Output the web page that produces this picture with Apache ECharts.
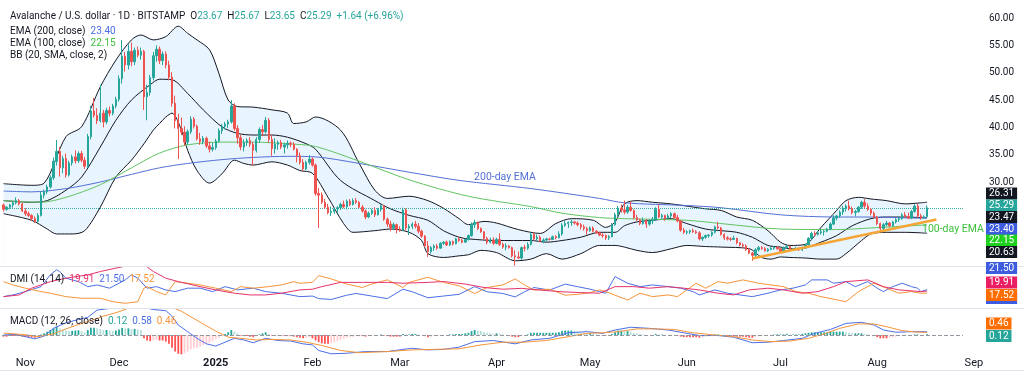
<!DOCTYPE html>
<html><head><meta charset="utf-8">
<script src="https://cdn.jsdelivr.net/npm/echarts/dist/echarts.min.js"></script>
<style>html,body{margin:0;padding:0;background:#fff;}#c{width:1024px;height:375px;}</style>
</head><body><div id="c"></div>
<script>
// ---------- DATA ----------
// candles per month: [open, high, low, close]
const candlesOct = [
[25.8,26.1,24.6,25.0],[25.0,25.6,24.8,25.4],[25.4,26.0,25.1,25.8],[25.8,26.5,25.3,26.2],[26.2,27.2,25.9,26.6],[26.6,26.9,25.7,26.0],[26.0,26.2,24.5,24.7]];
const candlesNov = [
[24.7,25.2,23.8,24.2],[24.2,24.6,23.6,23.9],[23.9,24.1,22.9,23.3],[23.3,23.7,22.5,22.8],[22.8,24.3,22.6,23.9],
[23.9,28.3,23.7,27.6],[27.6,28.6,27.0,28.2],[28.2,29.5,27.8,29.1],[29.1,31.2,28.8,30.8],[30.8,34.5,30.4,33.8],
[33.8,37.7,33.0,35.6],[35.6,36.4,31.0,32.6],[32.6,34.8,31.6,34.3],[34.3,35.2,30.8,31.3],[31.3,33.9,31.0,33.5],
[33.5,35.0,33.0,34.6],[34.6,35.8,33.4,33.9],[33.9,35.6,33.5,35.2],[35.2,35.7,33.6,34.0],[34.0,34.6,32.4,32.9],
[32.9,38.8,32.6,38.3],[38.3,43.9,37.8,43.0],[43.0,45.4,41.8,42.2],[42.2,43.5,40.6,41.2],[41.2,47.8,40.9,42.6],
[42.6,43.2,40.0,41.0],[41.0,43.6,40.6,43.1],[43.1,43.8,42.0,42.6],[42.6,44.3,42.2,43.9],[43.9,45.6,43.5,45.1]];
const candlesDec = [
[45.1,49.5,44.7,48.9],[48.9,56.0,48.0,53.0],[53.0,53.8,50.2,51.4],[51.4,55.2,50.6,53.9],[53.9,55.5,51.2,52.0],
[52.0,54.6,51.4,54.1],[54.1,54.8,52.8,53.2],[53.2,54.6,52.4,53.9],[53.9,54.2,43.2,45.6],[45.6,47.8,41.3,46.4],
[46.4,49.6,45.8,49.1],[49.1,53.8,48.6,53.1],[53.1,55.0,52.0,54.3],[54.3,54.8,51.6,52.2],[52.2,53.9,51.4,53.4],
[53.4,53.9,50.8,51.4],[51.4,52.2,48.6,49.2],[49.2,50.1,43.8,44.4],[44.4,45.8,39.8,41.2],[41.2,42.5,34.2,39.8],
[39.8,41.8,38.6,39.1],[39.1,40.2,36.6,37.3],[37.3,39.6,36.8,39.2],[39.2,42.0,38.8,41.5],[41.5,41.9,39.8,40.2],
[40.2,40.5,37.6,37.9],[37.9,39.0,36.8,37.4],[37.4,38.4,36.9,38.0],[38.0,38.3,36.2,36.6],[36.6,37.4,35.4,36.0],
[36.0,37.2,35.6,36.3]];
const candlesJan = [
[36.3,37.9,35.9,37.5],[37.5,39.8,37.2,39.4],[39.4,40.6,38.8,40.2],[40.2,41.0,39.6,40.6],[40.6,41.4,39.9,41.0],
[41.0,45.0,40.7,43.9],[43.9,44.4,39.4,39.8],[39.8,40.4,37.0,38.1],[38.1,38.6,35.8,36.4],[36.4,37.8,35.6,37.2],
[37.2,38.0,36.6,37.6],[37.6,38.2,36.4,36.9],[36.9,37.3,33.0,35.8],[35.8,38.2,35.4,37.8],[37.8,40.0,37.2,39.6],
[39.6,40.4,38.4,39.2],[39.2,41.9,38.9,41.3],[41.3,41.7,37.2,37.8],[37.8,38.6,34.8,36.1],[36.1,38.0,35.2,36.9],
[36.9,37.6,35.9,37.2],[37.2,37.7,36.0,36.4],[36.4,37.2,35.2,36.8],[36.8,37.6,36.1,37.1],[37.1,37.4,36.4,36.9],
[36.9,37.3,35.8,36.0],[36.0,36.2,33.6,34.8],[34.8,35.4,33.2,33.6],[33.6,34.2,32.0,32.4],[32.4,33.9,32.2,33.6],
[33.6,34.9,33.2,34.2]];
const candlesFeb = [
[34.2,34.5,32.8,33.1],[33.1,33.4,27.5,27.9],[27.9,28.9,21.6,27.6],[27.6,28.1,26.0,26.3],[26.3,26.9,25.1,25.4],
[25.4,26.0,24.1,24.4],[24.4,25.5,23.8,24.6],[24.6,25.3,24.2,25.1],[25.1,25.6,24.4,25.3],[25.3,26.2,24.9,25.9],
[25.9,26.6,25.2,25.5],[25.5,26.8,25.0,26.5],[26.5,26.9,25.6,25.9],[25.9,27.0,25.7,26.6],[26.6,27.1,26.0,26.3],
[26.3,26.5,25.2,25.4],[25.4,25.8,24.4,24.7],[24.7,25.0,23.2,23.6],[23.6,24.6,23.4,24.3],[24.3,25.1,24.0,24.8],
[24.8,25.4,23.6,24.0],[24.0,25.2,23.9,25.0],[25.0,25.9,24.6,25.6],[25.6,25.8,22.9,23.2],[23.2,23.5,21.8,22.3],
[22.3,22.9,21.0,21.6],[21.6,22.6,21.2,22.2],[22.2,22.4,20.6,21.4]];
const candlesMar = [
[21.4,21.9,20.9,21.2],[21.2,25.3,21.0,24.9],[24.9,25.2,21.2,21.6],[21.6,22.3,20.3,21.9],[21.9,22.6,21.4,22.3],
[22.3,22.9,21.5,21.9],[21.9,22.5,20.6,21.0],[21.0,21.3,19.8,20.1],[20.1,20.3,18.1,18.3],[18.3,19.2,16.3,17.3],
[17.3,18.3,16.9,18.0],[18.0,18.6,17.4,18.3],[18.3,18.7,17.6,17.9],[17.9,19.0,17.8,18.8],[18.8,19.2,18.5,19.0],
[19.0,19.3,18.3,18.5],[18.5,19.3,18.3,19.1],[19.1,19.3,18.4,18.7],[18.7,19.8,18.6,19.6],[19.6,19.9,19.0,19.3],
[19.3,19.6,18.8,19.0],[19.0,19.7,18.9,19.5],[19.5,20.4,19.3,20.2],[20.2,22.6,20.0,22.2],[22.2,23.1,21.6,22.6],
[22.6,22.8,21.2,21.5],[21.5,21.7,20.7,20.9],[20.9,21.0,19.4,19.7],[19.7,20.0,18.6,19.0],[19.0,19.8,18.8,19.4],
[19.4,19.9,18.5,18.8]];
const candlesApr = [
[18.8,19.8,18.6,19.5],[19.5,20.6,18.3,18.6],[18.6,18.9,17.8,18.1],[18.1,18.8,17.5,18.3],[18.3,18.5,17.8,18.0],
[18.0,18.2,16.2,16.5],[16.5,17.5,14.7,16.3],[16.3,17.3,15.9,16.1],[16.1,18.2,15.8,18.0],[18.0,18.5,17.3,17.9],
[17.9,19.0,17.6,18.6],[18.6,20.9,18.4,20.4],[20.4,20.8,19.3,19.6],[19.6,20.4,19.3,19.9],[19.9,20.2,19.0,19.2],
[19.2,19.7,18.8,19.4],[19.4,19.8,19.1,19.6],[19.6,19.8,19.3,19.5],[19.5,20.2,19.4,20.0],[20.0,20.3,19.5,19.8],
[19.8,21.0,19.7,20.5],[20.5,22.5,20.2,22.1],[22.1,23.0,21.8,22.4],[22.4,22.8,21.6,22.6],[22.6,23.1,22.0,22.7],
[22.7,22.9,22.2,22.5],[22.5,22.8,21.9,22.2],[22.2,22.5,21.3,21.8],[21.8,22.2,21.1,21.5],[21.5,21.8,20.4,21.1]];
const candlesMay = [
[21.1,21.9,20.9,21.6],[21.6,21.9,20.8,21.0],[21.0,21.2,20.5,20.7],[20.7,20.9,20.1,20.3],[20.3,20.6,19.8,20.2],
[20.2,20.4,19.4,19.8],[19.8,20.3,19.4,20.0],[20.0,22.5,19.9,22.2],[22.2,24.4,22.0,24.0],[24.0,25.6,23.6,25.2],
[25.2,25.9,24.4,24.9],[24.9,26.6,24.1,24.5],[24.5,25.8,24.2,25.4],[25.4,26.5,24.6,24.8],[24.8,25.0,23.2,23.5],
[23.5,24.0,22.9,23.1],[23.1,23.3,22.1,22.4],[22.4,23.5,22.2,23.0],[23.0,23.2,21.6,22.3],[22.3,23.2,22.0,22.9],
[22.9,23.6,22.3,23.1],[23.1,25.4,22.9,25.0],[25.0,25.9,23.4,23.6],[23.6,24.2,23.3,23.9],[23.9,24.0,22.9,23.4],
[23.4,24.2,23.2,23.8],[23.8,24.5,23.4,24.2],[24.2,24.4,23.3,23.5],[23.5,24.0,22.6,22.9],[22.9,23.0,20.9,21.2],
[21.2,21.6,20.5,20.8]];
const candlesJun = [
[20.8,21.2,20.4,20.9],[20.9,21.3,20.5,21.1],[21.1,21.5,20.7,20.9],[20.9,21.2,20.5,20.7],[20.7,21.0,19.3,19.6],
[19.6,20.0,19.2,19.9],[19.9,20.4,19.6,20.2],[20.2,20.5,19.8,20.3],[20.3,21.0,20.0,20.8],[20.8,22.0,20.6,21.8],
[21.8,22.7,21.4,21.6],[21.6,21.8,20.2,20.4],[20.4,20.6,19.4,19.8],[19.8,20.1,19.3,19.6],[19.6,19.9,19.2,19.5],
[19.5,20.2,19.4,19.7],[19.7,19.8,18.6,18.9],[18.9,19.0,18.2,18.5],[18.5,18.8,18.0,18.3],[18.3,18.6,17.4,17.6],
[17.6,17.9,16.8,17.0],[17.0,17.2,15.6,16.6],[16.6,17.9,16.2,17.6],[17.6,18.3,17.3,18.0],[18.0,18.3,17.6,17.8],
[17.8,18.1,17.3,17.4],[17.4,17.9,17.2,17.7],[17.7,18.1,17.5,17.9],[17.9,18.3,17.6,18.1],[18.1,18.2,17.6,17.8]];
const candlesJul = [
[17.8,17.9,17.1,17.3],[17.3,18.2,17.2,18.0],[18.0,18.5,17.8,18.2],[18.2,18.3,17.4,17.6],[17.6,17.9,17.4,17.7],
[17.7,18.1,17.5,17.9],[17.9,18.0,17.4,17.6],[17.6,18.1,17.4,17.9],[17.9,18.7,17.8,18.5],[18.5,19.9,18.4,19.7],
[19.7,20.9,19.5,20.6],[20.6,21.0,20.1,20.4],[20.4,21.0,20.2,20.7],[20.7,21.4,20.4,20.9],[20.9,21.2,20.2,21.0],
[21.0,21.6,20.8,21.4],[21.4,22.6,21.2,22.3],[22.3,23.9,22.1,23.4],[23.4,24.0,23.0,23.8],[23.8,24.8,23.5,24.5],
[24.5,25.6,24.0,25.2],[25.2,25.9,24.6,25.6],[25.6,26.6,24.8,25.1],[25.1,25.5,24.1,24.4],[24.4,24.9,23.7,24.6],
[24.6,25.6,24.4,25.4],[25.4,26.6,25.1,26.3],[26.3,26.9,25.2,25.6],[25.6,26.1,24.7,25.0],[25.0,25.2,23.9,24.3],
[24.3,24.6,23.4,23.6]];
const candlesAug = [
[23.6,23.8,22.1,22.4],[22.4,22.6,21.1,21.5],[21.5,22.5,21.2,22.2],[22.2,22.9,21.9,22.5],[22.5,22.7,21.7,22.0],
[22.0,22.9,21.8,22.7],[22.7,23.4,22.4,23.1],[23.1,23.6,22.7,23.3],[23.3,24.3,23.1,24.0],[24.0,24.5,23.5,23.7],
[23.7,24.4,23.2,23.4],[23.4,24.9,23.2,24.6],[24.6,25.9,24.4,25.6],[25.6,26.0,23.4,23.8],[23.8,24.2,23.1,23.5],
[23.5,23.9,23.3,23.67],[23.67,25.67,23.65,25.29]];

// indicator lines: [MM-DD, value]
const ema200Pts = [['10-25',28.35],['11-03',28.2],['11-14',28.8],['11-25',30.0],['12-05',31.4],['12-14',32.6],['12-23',33.4],['01-03',34.1],['01-13',34.5],['01-24',34.7],['02-02',34.6],['02-16',33.4],['03-04',31.8],['03-20',30.3],['04-12',28.8],['05-04',27.0],['05-12',26.2],['06-01',25.7],['06-12',25.3],['07-01',24.0],['07-19',23.6],['07-30',23.6],['08-15',23.4],['08-17',23.40]];
const ema100Pts = [['10-25',26.6],['11-06',26.3],['11-14',27.2],['11-25',29.5],['12-05',32.6],['12-14',35.3],['12-23',36.8],['01-03',37.3],['01-13',37.3],['01-24',37.0],['02-02',36.5],['02-16',33.8],['03-04',30.4],['03-23',27.4],['04-12',25.5],['04-22',24.3],['05-04',23.5],['05-12',23.3],['06-01',23.0],['06-12',22.4],['07-01',21.4],['07-19',21.3],['07-30',21.6],['08-15',22.1],['08-17',22.15]];
const bbUpperPts = [['10-25',29.7],['11-03',29.4],['11-07',29.8],['11-14',38.3],['11-19',40.1],['11-25',47.4],['11-30',52.3],['12-05',56.0],['12-08',56.9],['12-12',56.0],['12-16',56.6],['12-20',58.5],['12-23',57.2],['12-26',56.0],['12-30',54.2],['01-02',49.9],['01-05',45.0],['01-08',43.8],['01-13',43.7],['01-19',43.2],['01-24',42.6],['01-26',40.7],['01-30',41.0],['02-02',41.9],['02-10',39.5],['02-16',33.4],['02-21',28.5],['02-25',27.0],['03-04',27.4],['03-10',26.6],['03-15',25.2],['03-20',23.3],['03-23',22.2],['03-28',22.8],['04-01',22.5],['04-08',21.3],['04-15',20.6],['04-20',22.4],['04-25',23.3],['05-02',23.0],['05-06',21.7],['05-09',22.7],['05-12',26.0],['05-16',26.6],['05-21',26.3],['05-27',26.0],['06-07',25.1],['06-12',24.8],['06-17',23.6],['06-22',23.0],['06-27',21.1],['07-01',19.0],['07-04',18.4],['07-09',18.6],['07-14',21.7],['07-19',24.8],['07-22',26.6],['07-26',27.2],['07-30',26.9],['08-04',26.6],['08-10',26.0],['08-15',26.2],['08-17',26.31]];
const bbBasisPts = [['10-25',26.6],['11-03',26.3],['11-08',26.6],['11-14',28.5],['11-19',30.9],['11-25',36.4],['11-30',41.3],['12-05',45.0],['12-11',47.8],['12-14',48.8],['12-18',48.7],['12-23',46.2],['12-28',43.2],['01-03',40.1],['01-08',38.9],['01-13',38.6],['01-19',38.6],['01-24',38.2],['01-30',37.0],['02-02',36.0],['02-10',30.3],['02-21',26.6],['02-26',25.1],['03-04',23.9],['03-10',23.0],['03-15',21.1],['03-20',19.9],['03-23',19.6],['04-01',19.3],['04-12',19.3],['04-17',19.0],['04-22',19.3],['04-28',19.9],['05-04',20.8],['05-09',20.8],['05-12',22.0],['05-16',22.7],['05-21',23.0],['05-27',23.3],['06-01',22.4],['06-07',21.4],['06-12',21.1],['06-17',20.8],['06-22',19.9],['06-27',18.4],['07-01',18.1],['07-04',17.8],['07-09',18.0],['07-14',19.0],['07-19',20.2],['07-24',22.0],['07-30',23.3],['08-04',23.6],['08-10',23.6],['08-15',23.5],['08-17',23.47]];
const bbLowerPts = [['10-25',24.2],['11-03',23.0],['11-08',21.4],['11-11',20.5],['11-16',20.5],['11-20',21.1],['11-25',25.4],['11-30',30.9],['12-05',34.0],['12-09',37.0],['12-12',39.5],['12-14',40.7],['12-16',41.9],['12-18',42.6],['12-21',39.5],['12-23',35.8],['12-26',32.1],['12-30',29.8],['01-03',31.5],['01-07',34.0],['01-10',33.4],['01-13',33.1],['01-19',33.7],['01-24',33.1],['01-28',32.1],['02-01',31.6],['02-06',27.2],['02-11',22.4],['02-14',20.8],['02-21',21.1],['02-26',21.4],['03-04',20.8],['03-08',19.3],['03-10',16.9],['03-15',16.2],['03-20',16.5],['03-23',16.7],['03-27',17.5],['04-01',17.1],['04-07',15.6],['04-12',15.9],['04-17',16.9],['04-22',15.9],['04-28',16.9],['05-04',18.4],['05-09',18.4],['05-12',18.1],['05-16',17.5],['05-21',17.1],['05-27',17.8],['06-01',18.4],['06-07',18.2],['06-12',18.1],['06-21',17.8],['06-25',16.2],['06-28',15.9],['07-01',16.3],['07-04',16.2],['07-09',16.1],['07-14',15.9],['07-19',15.9],['07-22',16.9],['07-27',19.3],['07-30',20.5],['08-04',20.8],['08-10',20.8],['08-15',20.7],['08-17',20.63]];
const trendPts = [['06-22',16.0],['08-20',23.15]];

const plusDiPts = [['10-25',13.3],['10-28',15.3],['11-01',19.2],['11-06',25],['11-09',38.8],['11-11',44.7],['11-12',42.7],['11-14',34.9],['11-18',30.9],['11-21',25],['11-24',27],['11-28',23.2],['12-03',32.9],['12-05',38.8],['12-07',34.9],['12-10',23.2],['12-13',25],['12-16',21.2],['12-19',19.2],['12-23',23.2],['12-27',23.2],['12-31',19.2],['01-04',25],['01-08',21.2],['01-13',23.2],['01-17',19.2],['01-22',17.3],['01-28',13.3],['02-01',14],['02-03',11],['02-07',10],['02-12',15],['02-15',17],['02-20',14],['02-25',11],['03-02',22],['03-05',19],['03-10',12],['03-15',14],['03-20',16],['03-25',25],['03-29',19],['04-03',17],['04-07',13],['04-10',19],['04-13',24],['04-18',21],['04-23',28],['04-27',25],['05-01',22],['05-04',19.2],['05-06',17.3],['05-09',36.8],['05-13',29],['05-17',25],['05-21',27],['05-26',25],['05-30',23.2],['06-03',19.2],['06-05',15.3],['06-10',21.2],['06-14',17.3],['06-18',15.3],['06-22',13.3],['06-27',17.3],['07-01',21.2],['07-05',23.2],['07-09',27],['07-11',32.9],['07-16',32.9],['07-18',29],['07-22',30.9],['07-25',25],['07-29',30.9],['08-01',23.2],['08-03',19.2],['08-06',25],['08-09',29],['08-12',25],['08-14',23.2],['08-15',19.2],['08-17',21.5]];
const minusDiPts = [['10-25',30.9],['10-28',27],['11-01',23.2],['11-06',19.2],['11-09',17.3],['11-14',13.3],['11-19',11.4],['11-25',11.4],['11-29',7.4],['12-03',5.5],['12-07',7.4],['12-09',23.2],['12-10',25],['12-13',19.2],['12-16',15.3],['12-19',30.9],['12-23',29],['12-27',27],['01-01',23.2],['01-06',19.2],['01-09',25],['01-13',23.2],['01-18',25],['01-22',27],['01-26',30.9],['01-28',29],['02-01',30],['02-03',38],['02-07',34],['02-12',28],['02-17',24],['02-20',28],['02-25',33],['03-02',24],['03-04',30],['03-10',36],['03-15',30],['03-20',26],['03-25',17],['03-29',24],['04-03',27],['04-07',34],['04-10',27],['04-13',21],['04-18',22],['04-23',15],['04-27',16],['05-01',18],['05-04',21.2],['05-06',19.2],['05-13',9.4],['05-17',17.3],['05-21',13.3],['05-26',15.3],['05-29',13.3],['06-01',21.2],['06-04',29],['06-07',23.2],['06-11',30.9],['06-14',29],['06-19',32.9],['06-24',29],['06-28',27],['07-02',25],['07-06',19.2],['07-10',17.3],['07-14',13.3],['07-22',7.4],['07-26',19.2],['07-31',29],['08-04',23.2],['08-08',17.3],['08-12',19.2],['08-15',17.3],['08-17',17.52]];
const adxPts = [['10-25',13.3],['10-30',15.3],['11-03',23.2],['11-09',30.9],['11-14',34.9],['11-21',38.8],['11-25',42.7],['11-30',46.7],['12-03',49],['12-06',53],['12-09',51],['12-12',42.7],['12-16',34.9],['12-20',30.9],['12-27',25],['01-01',21.2],['01-07',17.3],['01-12',15.3],['01-17',15.3],['01-22',17.3],['01-28',21.2],['02-01',22],['02-04',25],['02-10',30],['02-17',30],['02-25',30],['03-02',29],['03-10',30],['03-15',31],['03-22',28],['03-28',24],['04-03',22],['04-09',23],['04-15',21],['04-22',19],['04-28',18],['05-04',17.3],['05-09',25],['05-15',25],['05-20',23.2],['05-26',25],['05-31',23.2],['06-05',21.2],['06-11',17.3],['06-16',15.3],['06-21',21.2],['06-27',23.2],['07-02',21.2],['07-08',17.3],['07-13',19.2],['07-18',25],['07-22',30.9],['07-29',32.9],['08-03',25],['08-08',21.2],['08-15',19.2],['08-17',19.91]];

const macdPts = [['10-25',0.0],['10-29',0.1],['11-01',-0.3],['11-04',-0.7],['11-07',-0.2],['11-10',1.2],['11-14',2.2],['11-18',2.8],['11-21',3.2],['11-24',4.5],['11-28',4.8],['12-02',5.5],['12-08',6.2],['12-09',5.0],['12-12',4.6],['12-16',4.4],['12-18',3.4],['12-20',1.8],['12-23',0.6],['12-26',-0.6],['12-29',-1.6],['01-01',-2.0],['01-04',-1.3],['01-07',-0.6],['01-10',-0.9],['01-13',-1.4],['01-17',-0.6],['01-21',-1.0],['01-25',-1.1],['01-29',-1.6],['02-01',-1.8],['02-03',-2.8],['02-07',-3.4],['02-12',-3.3],['02-18',-3.0],['02-25',-3.0],['03-02',-2.6],['03-05',-2.4],['03-10',-2.7],['03-15',-2.6],['03-20',-2.2],['03-25',-1.2],['03-31',-1.0],['04-07',-1.6],['04-12',-0.9],['04-18',-0.6],['04-24',0.4],['04-30',0.6],['05-05',0.3],['05-09',0.9],['05-14',1.4],['05-20',1.2],['05-26',0.9],['05-31',0.4],['06-05',-0.1],['06-11',-0.1],['06-16',-0.4],['06-22',-1.4],['06-27',-1.3],['07-02',-1.0],['07-08',-0.6],['07-12',0.3],['07-17',1.0],['07-22',2.1],['07-27',2.3],['07-31',1.8],['08-03',0.9],['08-07',0.5],['08-12',0.6],['08-17',0.58]];
const signalPts = [['10-25',0.35],['11-01',0.05],['11-05',-0.3],['11-10',0.2],['11-14',1.1],['11-18',1.9],['11-22',2.6],['11-26',3.4],['12-01',4.2],['12-06',5.3],['12-10',5.6],['12-14',5.4],['12-18',5.0],['12-21',4.3],['12-24',3.3],['12-28',2.0],['01-01',0.7],['01-05',-0.4],['01-09',-0.6],['01-14',-0.9],['01-19',-0.8],['01-25',-0.9],['01-30',-1.3],['02-04',-1.9],['02-10',-2.8],['02-16',-3.2],['02-25',-3.0],['03-05',-2.7],['03-12',-2.6],['03-20',-2.5],['03-27',-1.8],['04-03',-1.3],['04-10',-1.3],['04-17',-1.0],['04-24',-0.3],['04-30',0.3],['05-05',0.4],['05-10',0.6],['05-16',1.1],['05-22',1.1],['05-28',1.0],['06-03',0.4],['06-10',0.0],['06-16',-0.3],['06-22',-0.9],['06-28',-1.2],['07-04',-1.1],['07-10',-0.6],['07-15',0.2],['07-20',1.2],['07-26',2.0],['07-31',2.0],['08-04',1.5],['08-09',0.8],['08-13',0.55],['08-17',0.46]];
// daily histogram values
const histVals = [
-0.3,-0.3,-0.2,-0.2,-0.1,-0.2,-0.3,
-0.35,-0.4,-0.45,-0.5,-0.4,0.1,0.3,0.6,0.9,1.2,1.5,1.2,1.0,0.8,0.7,0.75,0.8,0.85,0.7,0.5,0.9,1.3,1.3,1.2,1.1,0.9,0.9,0.8,0.7,0.8,
1.0,1.3,1.2,1.2,1.1,1.1,1.0,0.9,-0.6,-1.0,-1.1,-1.0,-0.9,-1.0,-1.0,-1.2,-1.6,-2.3,-3.0,-3.4,-3.5,-3.3,-3.0,-2.6,-2.4,-2.3,-2.1,-1.8,-1.6,-1.4,-1.1,
-0.8,-0.5,-0.2,0.2,0.5,0.9,0.6,0.3,-0.1,-0.2,-0.2,-0.3,-0.4,-0.2,0.1,0.3,0.5,0.2,-0.1,-0.1,-0.1,-0.2,-0.2,-0.2,-0.2,-0.3,-0.4,-0.5,-0.6,-0.5,-0.4,
-0.6,-1.0,-1.3,-1.5,-1.6,-1.6,-1.5,-1.3,-1.1,-0.9,-0.7,-0.5,-0.4,-0.3,-0.2,-0.2,-0.2,-0.3,-0.2,-0.1,-0.1,0.0,0.1,-0.1,-0.2,-0.3,-0.3,-0.3,
-0.3,0.2,0.1,0.1,0.2,0.2,0.1,0.0,-0.2,-0.4,-0.3,-0.2,-0.2,-0.1,0.0,0.0,0.1,0.1,0.2,0.2,0.2,0.3,0.4,0.7,0.9,0.8,0.7,0.5,0.4,0.3,0.2,
0.3,0.2,0.1,0.0,-0.1,-0.3,-0.4,-0.4,-0.2,0.0,0.1,0.4,0.4,0.4,0.4,0.4,0.4,0.4,0.4,0.4,0.5,0.7,0.8,0.8,0.8,0.7,0.6,0.5,0.4,0.3,
0.3,0.2,0.1,0.0,-0.1,-0.1,-0.1,0.2,0.5,0.8,0.8,0.7,0.7,0.6,0.4,0.3,0.2,0.1,0.0,0.0,0.0,0.2,0.1,0.1,0.0,0.0,0.0,0.0,-0.1,-0.3,-0.4,
-0.4,-0.4,-0.4,-0.4,-0.5,-0.4,-0.3,-0.2,-0.1,0.1,0.1,0.0,-0.1,-0.2,-0.2,-0.2,-0.3,-0.3,-0.3,-0.4,-0.5,-0.5,-0.4,-0.2,-0.1,-0.1,0.0,0.0,0.1,0.1,
0.1,0.1,0.2,0.1,0.1,0.1,0.1,0.2,0.3,0.4,0.5,0.5,0.5,0.5,0.5,0.5,0.6,0.6,0.6,0.6,0.6,0.5,0.4,0.3,0.3,0.3,0.3,0.2,0.1,0.0,-0.2,
-0.4,-0.6,-0.6,-0.6,-0.5,-0.4,-0.3,-0.2,-0.1,-0.1,0.0,0.0,0.1,0.1,0.0,0.0,0.12];

const priceTicks = [30,35,40,45,50,55,60];
const monthNames = ['Jan','Feb','Mar','Apr','May','Jun','Jul','Aug','Sep','Oct','Nov','Dec'];

// ---------- BUILD ----------
function dayList(n){const out=[];const t0=Date.UTC(2024,9,25);for(let i=0;i<n;i++){out.push(new Date(t0+i*864e5).toISOString().slice(0,10));}return out;}
const mainDates = dayList(308);   // Oct 25 2024 .. Aug 28 2025
const labelDates = dayList(314);  // .. Sep 3 2025
const candleRows = [].concat(candlesOct,candlesNov,candlesDec,candlesJan,candlesFeb,candlesMar,candlesApr,candlesMay,candlesJun,candlesJul,candlesAug);
const candleData = candleRows.map(r=>[r[0],r[3],r[2],r[1]]);
function full(md){const m=+md.slice(0,2);return (m>=10?'2024-':'2025-')+md;}
function pts(arr){return arr.map(p=>[mainDates.indexOf(full(p[0])),p[1]]);}

const UP='#26a69a', DOWN='#ef5350';
const chart = echarts.init(document.getElementById('c'),null,{renderer:'canvas'});
const gridL=2, gridW=308*3.12;
const hideX = (gi)=>({type:'category',gridIndex:gi,data:mainDates,boundaryGap:true,axisLine:{show:false},axisTick:{show:false},axisLabel:{show:false},splitLine:{show:false}});
const lineS = (name,xi,data,color,width,extra)=>Object.assign({name,type:'line',xAxisIndex:xi,yAxisIndex:xi,data:pts(data),showSymbol:false,symbol:'none',lineStyle:{color,width},itemStyle:{color},z:4,animation:false,silent:true},extra||{});

function tag(y,text,bg){return {type:'text',x:986,y:y,style:{text:text,fill:'#fff',backgroundColor:bg,padding:[1,3,1,3],font:'10px Roboto, sans-serif',verticalAlign:'middle',align:'left'},z:100};}

const option = {
  animation:false,
  backgroundColor:'#ffffff',
  grid:[
    {left:gridL,top:6,width:gridW,height:260},
    {left:gridL,top:267,width:gridW,height:41},
    {left:gridL,top:309,width:gridW,height:47},
    {left:gridL,top:352,width:314*3.12,height:1}
  ],
  xAxis:[hideX(0),hideX(1),hideX(2),
    {type:'category',gridIndex:3,data:labelDates,boundaryGap:true,axisLine:{show:false},axisTick:{show:false},splitLine:{show:false},
     axisLabel:{show:true,margin:5,color:'#131722',fontSize:11,fontFamily:'Roboto, sans-serif',
       interval:(i,v)=>v.slice(8)==='01',
       formatter:(v)=>{const m=+v.slice(5,7);return m===1?'{b|'+v.slice(0,4)+'}':monthNames[m-1];},
       rich:{b:{fontWeight:'bold',fontSize:11,color:'#131722',fontFamily:'Roboto, sans-serif'}}}}
  ],
  yAxis:[
    {type:'value',gridIndex:0,position:'right',min:14.64,max:62.2,splitNumber:9,scale:true,
     axisLine:{show:false},axisTick:{show:false},splitLine:{show:false},
     axisLabel:{margin:26,color:'#131722',fontSize:10,fontFamily:'Roboto, sans-serif',showMinLabel:false,showMaxLabel:false,
       formatter:(v)=>priceTicks.indexOf(Math.round(v*100)/100)>=0?v.toFixed(2):''}},
    {type:'value',gridIndex:1,position:'right',min:0,max:48,axisLine:{show:false},axisTick:{show:false},splitLine:{show:false},axisLabel:{show:false}},
    {type:'value',gridIndex:2,position:'right',min:-3.8,max:4.7,axisLine:{show:false},axisTick:{show:false},splitLine:{show:false},axisLabel:{show:false}},
    {type:'value',gridIndex:3,show:false}
  ],
  series:[
    lineS('BB upper',0,bbUpperPts,'#131722',1,{smooth:0.3,z:1,areaStyle:{color:'rgba(33,150,243,0.1)',origin:'start',opacity:1}}),
    lineS('BB lower',0,bbLowerPts,'#131722',1,{smooth:0.3,z:2,areaStyle:{color:'#ffffff',origin:'start',opacity:1}}),
    lineS('BB basis',0,bbBasisPts,'#131722',1,{smooth:0.3,z:3}),
    lineS('EMA 200',0,ema200Pts,'#5470d6',1,{smooth:0.3,z:3}),
    lineS('EMA 100',0,ema100Pts,'#62c462',1,{smooth:0.3,z:3}),
    {name:'price',type:'candlestick',xAxisIndex:0,yAxisIndex:0,data:candleData,barWidth:'62%',z:5,silent:true,
     itemStyle:{color:UP,color0:DOWN,borderColor:UP,borderColor0:DOWN,borderWidth:1},
     markLine:{silent:true,symbol:'none',label:{show:false},lineStyle:{color:'#26a69a',type:'dotted',width:1,opacity:0.9},data:[{yAxis:25.29}]}},
    lineS('trend',0,trendPts,'#f5a636',2.5,{z:6}),
    lineS('+DI',1,plusDiPts,'#4b6fe6',1,{z:4}),
    lineS('-DI',1,minusDiPts,'#f7953a',1,{z:4}),
    lineS('ADX',1,adxPts,'#e5336b',1,{z:5}),
    {name:'hist',type:'bar',xAxisIndex:2,yAxisIndex:2,data:histVals,barWidth:1.8,z:3,silent:true,
     itemStyle:{color:(p)=>{const i=p.dataIndex,v=histVals[i],pv=i>0?histVals[i-1]:v;return v>=0?(v>=pv?'#26a69a':'#b2dfdb'):(v<=pv?'#ff5252':'#ffcdd2');}},
     markLine:{silent:true,symbol:'none',label:{show:false},lineStyle:{color:'#9598a1',type:'dashed',width:1},data:[{yAxis:0}]}},
    lineS('MACD',2,macdPts,'#4b6fe6',1,{z:4}),
    lineS('Signal',2,signalPts,'#f7953a',1,{z:4})
  ],
  graphic:[
    {type:'line',shape:{x1:0,y1:266.5,x2:1024,y2:266.5},style:{stroke:'#e0e3eb',lineWidth:1},z:50},
    {type:'line',shape:{x1:0,y1:308.5,x2:1024,y2:308.5},style:{stroke:'#e0e3eb',lineWidth:1},z:50},
    {type:'line',shape:{x1:0,y1:370.5,x2:1024,y2:370.5},style:{stroke:'#e0e3eb',lineWidth:1},z:50},
    {type:'text',x:10,y:16,style:{text:'Avalanche / U.S. dollar · 1D · BITSTAMP  O{g|23.67}  H{g|25.67}  L{g|23.65}  C{g|25.29}  {g|+1.64 (+6.96%)}',font:'10px Roboto, sans-serif',fill:'#131722',verticalAlign:'middle',rich:{g:{fill:'#26a69a',font:'10px Roboto, sans-serif'}}},z:100},
    {type:'text',x:10,y:31,style:{text:'EMA (200, close)  {b|23.40}',font:'10px Roboto, sans-serif',fill:'#131722',verticalAlign:'middle',rich:{b:{fill:'#4b6fe6',font:'10px Roboto, sans-serif'}}},z:100},
    {type:'text',x:10,y:43,style:{text:'EMA (100, close)  {g|22.15}',font:'10px Roboto, sans-serif',fill:'#131722',verticalAlign:'middle',rich:{g:{fill:'#3cbf3c',font:'10px Roboto, sans-serif'}}},z:100},
    {type:'text',x:10,y:55,style:{text:'BB (20, SMA, close, 2)',font:'10px Roboto, sans-serif',fill:'#131722',verticalAlign:'middle'},z:100},
    {type:'text',x:10,y:279,style:{text:'DMI (14, 14)  {p|19.91}  {b|21.50}  {o|17.52}',font:'10px Roboto, sans-serif',fill:'#131722',verticalAlign:'middle',rich:{p:{fill:'#e5336b',font:'10px Roboto, sans-serif'},b:{fill:'#4b6fe6',font:'10px Roboto, sans-serif'},o:{fill:'#f7953a',font:'10px Roboto, sans-serif'}}},z:100},
    {type:'text',x:10,y:321,style:{text:'MACD (12, 26, close)  {t|0.12}  {b|0.58}  {o|0.46}',font:'10px Roboto, sans-serif',fill:'#131722',verticalAlign:'middle',rich:{t:{fill:'#26a69a',font:'10px Roboto, sans-serif'},b:{fill:'#4b6fe6',font:'10px Roboto, sans-serif'},o:{fill:'#f7953a',font:'10px Roboto, sans-serif'}}},z:100},
    {type:'text',x:505,y:177,style:{text:'200-day EMA',font:'10.5px Roboto, sans-serif',fill:'#5470d6',align:'center',verticalAlign:'middle'},z:100},
    {type:'text',x:922,y:229,style:{text:'100-day EMA',font:'10.5px Roboto, sans-serif',fill:'#3cbf3c',align:'left',verticalAlign:'middle'},z:100},
    tag(193.5,'26.31','#131722'),
    tag(205.5,'25.29','#26a69a'),
    tag(217,'23.47','#131722'),
    tag(229,'23.40','#3d5ce0'),
    tag(240.5,'22.15','#1fd11f'),
    tag(252,'20.63','#131722'),
    tag(298,'17.55','#3d5ce0'),
    tag(268,'21.50','#3d5ce0'),
    tag(282.5,'19.91','#e91e63'),
    tag(295,'17.52','#ff6d00'),
    tag(323.5,'0.46','#ff6d00'),
    tag(336,'0.12','#26a69a')
  ]
};
chart.setOption(option);
</script></body></html>
